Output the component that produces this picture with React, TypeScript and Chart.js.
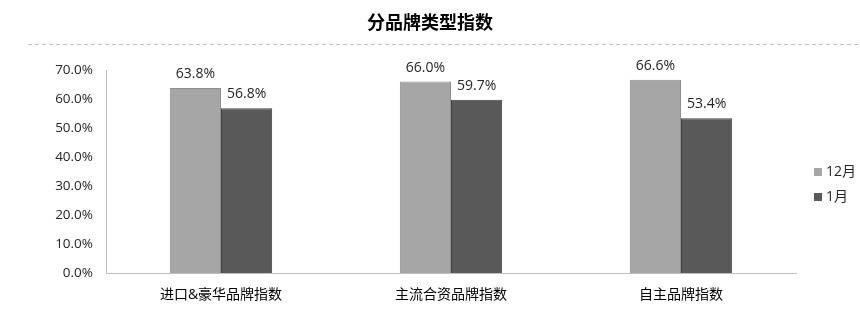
import React, { useEffect, useRef } from "react";
import { Chart, registerables } from "chart.js";

Chart.register(...registerables);

const categories = ["进口&豪华品牌指数", "主流合资品牌指数", "自主品牌指数"];
const decValues = [63.8, 66.0, 66.6];
const janValues = [56.8, 59.7, 53.4];
const seriesNames = ["12月", "1月"];
const chartTitle = "分品牌类型指数";

const FONT = '"Open Sans", "Noto Sans CJK SC", sans-serif';

const decorPlugin = {
  id: "decor",
  afterDraw(chart: any) {
    const ctx = chart.ctx;
    ctx.save();
    // title
    ctx.fillStyle = "#000";
    ctx.font = `bold 18px "Noto Sans CJK SC", sans-serif`;
    ctx.textAlign = "center";
    ctx.textBaseline = "middle";
    ctx.fillText(chartTitle, 430, 22);
    // dashed separator
    ctx.strokeStyle = "#bfbfbf";
    ctx.lineWidth = 1;
    ctx.setLineDash([4, 3]);
    ctx.beginPath();
    ctx.moveTo(28, 44.5);
    ctx.lineTo(860, 44.5);
    ctx.stroke();
    ctx.setLineDash([]);

    // value labels above bars
    ctx.font = `14px ${FONT}`;
    ctx.fillStyle = "#262626";
    ctx.textAlign = "center";
    ctx.textBaseline = "alphabetic";
    chart.data.datasets.forEach((ds: any, i: number) => {
      const meta = chart.getDatasetMeta(i);
      meta.data.forEach((bar: any, j: number) => {
        ctx.fillText(ds.data[j].toFixed(1) + "%", bar.x, bar.y - 10);
      });
    });

    // legend
    chart.data.datasets.forEach((ds: any, i: number) => {
      const y = 172 + i * 25;
      ctx.fillStyle = ds.backgroundColor;
      ctx.fillRect(814, y - 4, 8, 8);
      ctx.fillStyle = "#262626";
      ctx.font = `14px ${FONT}`;
      ctx.textAlign = "left";
      ctx.textBaseline = "middle";
      ctx.fillText(ds.label, 826, y);
    });
    ctx.restore();
  },
};

export default function App() {
  const ref = useRef<HTMLCanvasElement>(null);
  useEffect(() => {
    const chart = new Chart(ref.current!, {
      type: "bar",
      data: {
        labels: categories,
        datasets: [
          {
            label: seriesNames[0],
            data: decValues,
            backgroundColor: "#a6a6a6",
            borderColor: "#8f8f8f",
            borderWidth: 1,
            categoryPercentage: 0.445,
            barPercentage: 1,
          },
          {
            label: seriesNames[1],
            data: janValues,
            backgroundColor: "#595959",
            borderColor: "#434343",
            borderWidth: 1,
            categoryPercentage: 0.445,
            barPercentage: 1,
          },
        ],
      },
      options: {
        animation: false,
        responsive: false,
        layout: { padding: { top: 70, left: 8, right: 64, bottom: 0 } },
        plugins: {
          legend: { display: false },
          title: { display: false },
          tooltip: { enabled: false },
        },
        scales: {
          x: {
            grid: { display: false, drawTicks: false },
            border: { display: true, color: "#bfbfbf" },
            ticks: {
              color: "#000",
              font: { size: 14, family: FONT },
              padding: 14,
            },
            afterFit: (s: any) => {
              s.height = 40;
            },
          },
          y: {
            min: 0,
            max: 70,
            grid: { display: false, drawTicks: false },
            border: { display: true, color: "#bfbfbf" },
            ticks: {
              stepSize: 10,
              color: "#262626",
              font: { size: 13.5, family: FONT },
              padding: 13,
              callback: (v: any) => Number(v).toFixed(1) + "%",
            },
            afterFit: (s: any) => {
              s.width = 98;
            },
          },
        },
      },
      plugins: [decorPlugin],
    });
    return () => chart.destroy();
  }, []);
  return (
    <div style={{ position: "fixed", left: 0, top: 0, width: 860, height: 313, background: "#fff" }}>
      <canvas ref={ref} width={860} height={313} />
    </div>
  );
}
